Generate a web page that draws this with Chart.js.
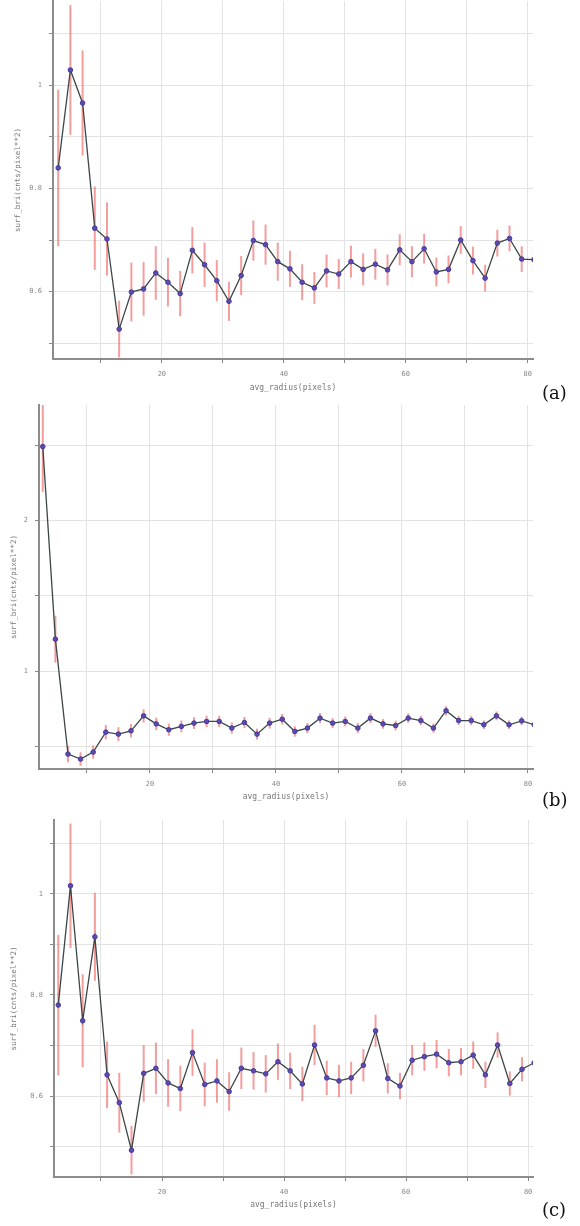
<!DOCTYPE html>
<html>
<head>
<meta charset="utf-8">
<script src="https://cdn.jsdelivr.net/npm/chart.js@4.4.1/dist/chart.umd.min.js"></script>
<style>
  html, body { margin: 0; padding: 0; background: #fff; }
  #page { position: relative; width: 580px; height: 1226px; overflow: hidden; }
  #page canvas { position: absolute; left: 0; }
  .tag { position: absolute; left: 542px; font: 18px 'DejaVu Serif', serif; line-height: 20px; color: #111; }
</style>
</head>
<body>
<div id="page">
  <canvas id="chartA" width="580" height="400" style="top:0px"></canvas>
  <canvas id="chartB" width="580" height="410" style="top:400px"></canvas>
  <canvas id="chartC" width="580" height="416" style="top:810px"></canvas>
  <div class="tag" style="top:383px">(a)</div>
  <div class="tag" style="top:790px">(b)</div>
  <div class="tag" style="top:1200px">(c)</div>
</div>
<script>
// ---- data ----------------------------------------------------------------
const radius = [3, 5, 7, 9, 11, 13, 15, 17, 19, 21, 23, 25, 27, 29, 31, 33, 35, 37, 39, 41,
                43, 45, 47, 49, 51, 53, 55, 57, 59, 61, 63, 65, 67, 69, 71, 73, 75, 77, 79, 81];

const briA = [0.840, 1.030, 0.966, 0.723, 0.702, 0.527, 0.599, 0.605, 0.636, 0.618,
              0.596, 0.680, 0.652, 0.621, 0.581, 0.631, 0.699, 0.691, 0.658, 0.644,
              0.618, 0.607, 0.640, 0.634, 0.658, 0.643, 0.653, 0.642, 0.681, 0.658,
              0.683, 0.638, 0.643, 0.700, 0.660, 0.626, 0.694, 0.703, 0.663, 0.662];
const errA = [0.152, 0.126, 0.102, 0.081, 0.071, 0.055, 0.057, 0.052, 0.052, 0.047,
              0.044, 0.045, 0.043, 0.040, 0.038, 0.038, 0.039, 0.039, 0.037, 0.035,
              0.035, 0.031, 0.032, 0.029, 0.031, 0.031, 0.030, 0.030, 0.030, 0.030,
              0.029, 0.028, 0.027, 0.027, 0.027, 0.026, 0.026, 0.025, 0.025, 0.024];

const briB = [2.490, 1.214, 0.453, 0.420, 0.466, 0.598, 0.585, 0.607, 0.706, 0.653,
              0.614, 0.636, 0.658, 0.669, 0.669, 0.625, 0.662, 0.585, 0.658, 0.684,
              0.603, 0.625, 0.691, 0.658, 0.669, 0.625, 0.691, 0.653, 0.642, 0.691,
              0.675, 0.625, 0.740, 0.675, 0.675, 0.647, 0.706, 0.647, 0.673, 0.647];
const errB = [0.300, 0.155, 0.055, 0.045, 0.044, 0.048, 0.046, 0.044, 0.044, 0.042,
              0.040, 0.040, 0.039, 0.038, 0.038, 0.037, 0.037, 0.036, 0.036, 0.035,
              0.035, 0.034, 0.034, 0.033, 0.033, 0.033, 0.032, 0.032, 0.032, 0.031,
              0.031, 0.031, 0.030, 0.030, 0.030, 0.029, 0.029, 0.029, 0.028, 0.028];

const briC = [0.780, 1.016, 0.749, 0.915, 0.642, 0.587, 0.493, 0.645, 0.655, 0.626,
              0.615, 0.686, 0.623, 0.630, 0.609, 0.655, 0.650, 0.644, 0.668, 0.650,
              0.624, 0.701, 0.636, 0.630, 0.636, 0.661, 0.729, 0.635, 0.620, 0.671,
              0.678, 0.683, 0.666, 0.668, 0.681, 0.642, 0.701, 0.625, 0.653, 0.666];
const errC = [0.139, 0.123, 0.092, 0.087, 0.066, 0.059, 0.048, 0.056, 0.051, 0.047,
              0.045, 0.046, 0.043, 0.043, 0.038, 0.041, 0.037, 0.037, 0.036, 0.036,
              0.034, 0.040, 0.034, 0.032, 0.032, 0.032, 0.032, 0.030, 0.026, 0.030,
              0.028, 0.028, 0.027, 0.027, 0.027, 0.026, 0.025, 0.024, 0.024, 0.024];

// tick labels actually printed on the axes
const xLabels  = [20, 40, 60, 80];
const yLabelsA = [0.6, 0.8, 1];
const yLabelsB = [1, 2];
const yLabelsC = [0.6, 0.8, 1];

const xTitle = 'avg_radius(pixels)';
const yTitle = 'surf_bri(cnts/pixel**2)';

// ---- error bar plugin ----------------------------------------------------
const errorBars = {
    id: 'errorBars',
    beforeDatasetsDraw(chart, args, opts) {
        const { ctx, chartArea: a, scales: { x, y } } = chart;
        const pts = chart.data.datasets[0].data;
        ctx.save();
        ctx.beginPath();
        ctx.rect(a.left, a.top, a.right - a.left, a.bottom - a.top);
        ctx.clip();
        ctx.strokeStyle = opts.color;
        ctx.lineWidth = opts.width;
        pts.forEach((p, i) => {
            const e = opts.errors[i];
            const px = x.getPixelForValue(p.x);
            ctx.beginPath();
            ctx.moveTo(px, y.getPixelForValue(p.y - e));
            ctx.lineTo(px, y.getPixelForValue(p.y + e));
            ctx.stroke();
        });
        ctx.restore();
    }
};

const isIn = (list, v) => list.some(l => Math.abs(l - v) < 1e-6);
const tickFont  = { family: 'DejaVu Sans Mono', size: 7 };
const titleFont = { family: 'DejaVu Sans Mono', size: 7.5 };

function makeChart(id, values, errors, p) {
    const data = radius.map((r, i) => ({ x: r, y: values[i] }));
    return new Chart(document.getElementById(id), {
        type: 'line',
        data: {
            datasets: [{
                data,
                borderColor: '#3c4646',
                borderWidth: 1.3,
                tension: 0,
                pointRadius: 2.3,
                pointBackgroundColor: '#5a4bb0',
                pointBorderColor: '#46399a',
                pointBorderWidth: 1
            }]
        },
        options: {
            responsive: false,
            animation: false,
            layout: { autoPadding: false, padding: { left: 0, right: 47, top: p.padTop, bottom: 0 } },
            plugins: {
                legend: { display: false },
                tooltip: { enabled: false },
                errorBars: { errors, color: 'rgba(236, 92, 92, 0.6)', width: 2 }
            },
            scales: {
                x: {
                    type: 'linear',
                    min: p.xMin, max: p.xMax,
                    afterFit: s => { s.height = p.xAxisH; s.paddingLeft = 0; s.paddingRight = 0; },
                    ticks: {
                        stepSize: 10, includeBounds: false, autoSkip: false, maxRotation: 0,
                        padding: 7, color: '#888', font: tickFont,
                        callback: v => isIn(xLabels, v) ? String(v) : ''
                    },
                    grid: { color: '#e3e3e3', tickColor: '#888', tickLength: 4 },
                    border: { color: '#8c8c8c', width: 2 },
                    title: {
                        display: true, text: xTitle, color: '#777',
                        font: { family: 'DejaVu Sans Mono', size: 8 },
                        padding: { top: 0, bottom: p.xTitlePad }
                    }
                },
                y: {
                    min: p.yMin, max: p.yMax,
                    afterFit: s => { s.width = p.yAxisW; s.paddingTop = 0; s.paddingBottom = 0; },
                    ticks: {
                        stepSize: p.yStep, includeBounds: false, autoSkip: false,
                        padding: 7, color: '#888', font: tickFont,
                        callback: v => isIn(p.yLabels, v) ? String(Math.round(v * 10) / 10) : ''
                    },
                    grid: { color: '#e3e3e3', tickColor: '#888', tickLength: 4 },
                    border: { color: '#8c8c8c', width: 2 },
                    title: {
                        display: true, text: yTitle, color: '#777', font: titleFont,
                        padding: { top: p.yTitlePad, bottom: 0 }
                    }
                }
            }
        },
        plugins: [errorBars]
    });
}

makeChart('chartA', briA, errA, {
    xMin: 2.15, xMax: 80.85, yMin: 0.469, yMax: 1.164, yStep: 0.1, yLabels: yLabelsA,
    padTop: 1, xAxisH: 41, xTitlePad: 7, yAxisW: 53, yTitlePad: 14
});
makeChart('chartB', briB, errB, {
    xMin: 2.4, xMax: 80.8, yMin: 0.354, yMax: 2.765, yStep: 0.5, yLabels: yLabelsB,
    padTop: 5, xAxisH: 41, xTitlePad: 8, yAxisW: 39, yTitlePad: 10
});
makeChart('chartC', briC, errC, {
    xMin: 2.3, xMax: 80.8, yMin: 0.44, yMax: 1.146, yStep: 0.1, yLabels: yLabelsC,
    padTop: 10, xAxisH: 49, xTitlePad: 16, yAxisW: 54, yTitlePad: 10
});
</script>
</body>
</html>
